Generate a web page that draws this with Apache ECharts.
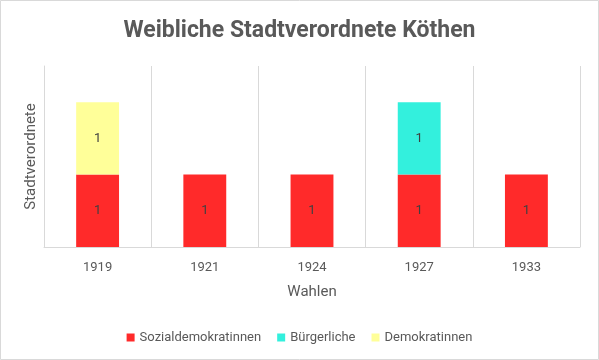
<!DOCTYPE html>
<html><head><meta charset="utf-8">
<script src="https://cdn.jsdelivr.net/npm/echarts@6/dist/echarts.min.js"></script>
<style>html,body{margin:0;padding:0;background:#fff}#c{width:599px;height:360px}</style>
</head><body><div id="c"></div>
<script>
const categories = ['1919', '1921', '1924', '1927', '1933'];
const sozialdemokratinnen = [1, 1, 1, 1, 1];
const buergerliche = [0, 0, 0, 1, 0];
const demokratinnen = [1, 0, 0, 0, 0];

const font = '"Roboto", sans-serif';
const chart = echarts.init(document.getElementById('c'), null, {renderer: 'canvas'});
const lbl = {show: true, position: 'inside', color: '#404040', fontSize: 13, fontFamily: font,
  formatter: p => p.value ? String(p.value) : ''};
function s(name, data, color) {
  return {name, type: 'bar', stack: 'a', data, barWidth: '40%', itemStyle: {color}, label: lbl};
}
chart.setOption({
  animation: false,
  backgroundColor: '#fff',
  textStyle: {fontFamily: font},
  title: {text: 'Weibliche Stadtverordnete Köthen', left: 'center', top: 15,
    textStyle: {fontSize: 23, fontWeight: 'bold', color: '#595959', fontFamily: font}},
  graphic: [{type: 'rect', shape: {x: 0.5, y: 0.5, width: 598, height: 359},
    style: {fill: null, stroke: '#d9d9d9', lineWidth: 1}, silent: true}],
  grid: {left: 44, right: 19, top: 66, bottom: 113},
  legend: {bottom: 11, left: 'center', itemWidth: 8, itemHeight: 8, itemGap: 16, icon: 'rect',
    textStyle: {fontSize: 13, color: '#595959', fontFamily: font},
    data: ['Sozialdemokratinnen', 'Bürgerliche', 'Demokratinnen']},
  xAxis: {type: 'category', data: categories, name: 'Wahlen', nameLocation: 'middle', nameGap: 38,
    nameTextStyle: {fontSize: 15, color: '#595959', fontFamily: font},
    axisLine: {lineStyle: {color: '#d9d9d9'}}, axisTick: {show: false},
    axisLabel: {fontSize: 13, color: '#595959', margin: 14, fontFamily: font},
    splitLine: {show: true, lineStyle: {color: '#d9d9d9'}}},
  yAxis: {type: 'value', min: 0, max: 2.5, name: 'Stadtverordnete', nameLocation: 'middle', nameGap: 5,
    nameTextStyle: {fontSize: 15, color: '#595959', fontFamily: font},
    axisLine: {show: true, lineStyle: {color: '#d9d9d9'}}, axisLabel: {show: false}, axisTick: {show: false},
    splitLine: {show: false}},
  series: [
    s('Sozialdemokratinnen', sozialdemokratinnen, '#FF2A2A'),
    s('Bürgerliche', buergerliche, '#33F0DD'),
    s('Demokratinnen', demokratinnen, '#FFFF99')
  ]
});
</script></body></html>
